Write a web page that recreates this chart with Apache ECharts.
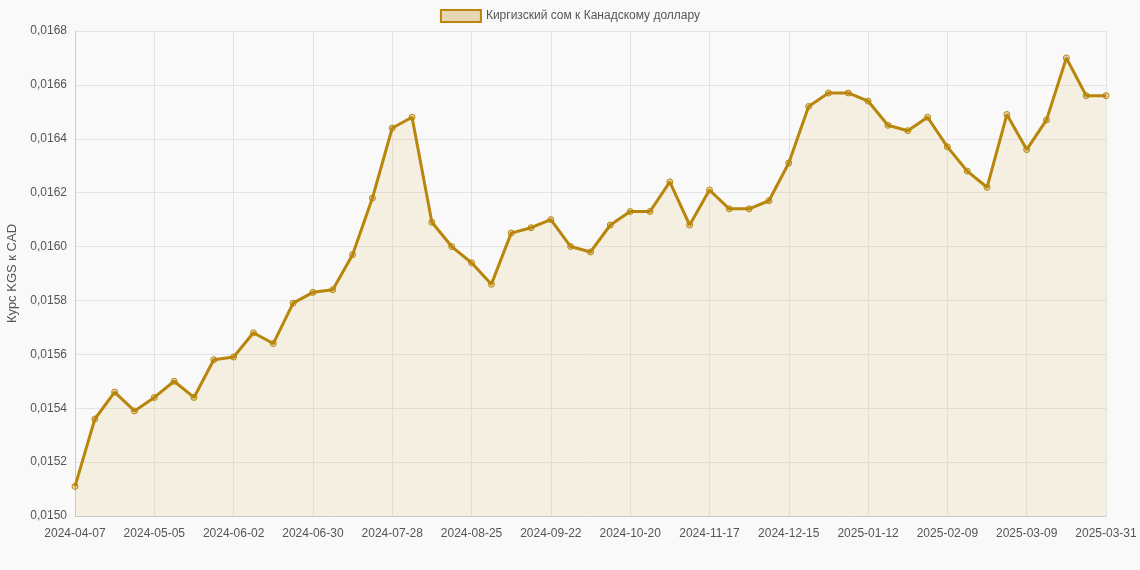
<!DOCTYPE html>
<html>
<head>
<meta charset="utf-8">
<script src="https://cdn.jsdelivr.net/npm/echarts@6/dist/echarts.min.js"></script>
<style>html,body{margin:0;padding:0;background:#f9f9f9}#chart{width:1140px;height:570px}</style>
</head>
<body>
<div id="chart"></div>
<script>
// недельные даты
const startDate = new Date(Date.UTC(2024, 3, 7));
const dates = [];
for (let i = 0; i < 52; i++) {
    const d = new Date(startDate.getTime() + i * 7 * 86400000);
    dates.push(d.toISOString().slice(0, 10));
}
dates.push('2025-03-31');

const rates = [
    0.01511, 0.01536, 0.01546, 0.01539, 0.01544, 0.01550, 0.01544, 0.01558, 0.01559, 0.01568,
    0.01564, 0.01579, 0.01583, 0.01584, 0.01597, 0.01618, 0.01644, 0.01648, 0.01609, 0.01600,
    0.01594, 0.01586, 0.01605, 0.01607, 0.01610, 0.01600, 0.01598, 0.01608, 0.01613, 0.01613,
    0.01624, 0.01608, 0.01621, 0.01614, 0.01614, 0.01617, 0.01631, 0.01652, 0.01657, 0.01657,
    0.01654, 0.01645, 0.01643, 0.01648, 0.01637, 0.01628, 0.01622, 0.01649, 0.01636, 0.01647,
    0.01670, 0.01656, 0.01656
];

const chart = echarts.init(document.getElementById('chart'));
const fmt = v => v.toFixed(4).replace('.', ',');
chart.setOption({
    backgroundColor: '#f9f9f9',
    textStyle: { fontFamily: 'Arial, Liberation Sans, sans-serif' },
    legend: {
        top: 4,
        itemWidth: 40,
        itemHeight: 12,
        textStyle: { color: '#555', fontSize: 12 },
        data: [{ name: 'Киргизский сом к Канадскому доллару', icon: 'rect' }]
    },
    grid: { left: 75, right: 34, top: 31, bottom: 54, containLabel: false, outerBoundsMode: 'none' },
    xAxis: {
        type: 'category',
        boundaryGap: false,
        data: dates,
        axisLine: { lineStyle: { color: '#ccc' } },
        axisTick: { show: false },
        axisLabel: { interval: 3, color: '#555', fontSize: 12, margin: 12 },
        splitLine: { show: true, interval: 3, lineStyle: { color: '#e3e3e3' } }
    },
    yAxis: {
        type: 'value',
        min: 0.0150,
        max: 0.0168,
        interval: 0.0002,
        name: 'Курс KGS к CAD',
        nameLocation: 'middle',
        nameGap: 56,
        nameTextStyle: { color: '#555', fontSize: 13 },
        axisLine: { show: true, lineStyle: { color: '#ccc' } },
        axisLabel: { color: '#555', fontSize: 12, formatter: fmt },
        splitLine: { lineStyle: { color: '#e3e3e3' } }
    },
    series: [{
        name: 'Киргизский сом к Канадскому доллару',
        type: 'line',
        data: rates,
        symbol: 'circle',
        symbolSize: 6,
        itemStyle: { color: 'rgba(184,134,11,0.3)', borderColor: '#b8860b', borderWidth: 1 },
        lineStyle: { color: '#b8860b', width: 3 },
        areaStyle: { color: 'rgba(220,190,110,0.25)' }
    }]
});
</script>
</body>
</html>
